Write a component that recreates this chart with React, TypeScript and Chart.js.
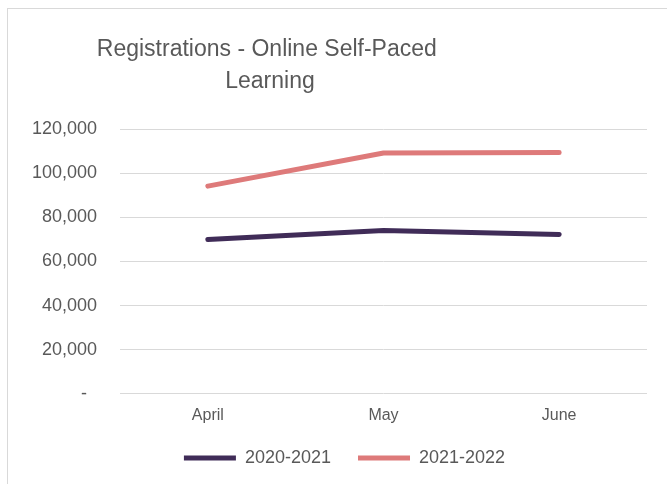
import React, { useEffect, useRef } from "react";
import { Chart, registerables } from "chart.js";

Chart.register(...registerables);

const months = ["April", "May", "June"];
const series2020 = [69900, 74000, 72200];
const series2021 = [94100, 109100, 109400];
const seriesNames = ["2020-2021", "2021-2022"];
const titleLines = ["Registrations - Online Self-Paced ", "Learning"];
const yTicks = [0, 20000, 40000, 60000, 80000, 100000, 120000];

const FONT = "Arial, 'Liberation Sans', sans-serif";
const TEXT = "#595959";
const GRID = "#d9d9d9";

const titlePlugin = {
  id: "customTitle",
  afterDraw(chart: any) {
    const ctx = chart.ctx;
    ctx.save();
    ctx.fillStyle = TEXT;
    ctx.font = `23px ${FONT}`;
    ctx.textAlign = "center";
    ctx.textBaseline = "alphabetic";
    const cx = 270;
    titleLines.forEach((line, i) => {
      ctx.fillText(line, cx, 56 + i * 32);
    });
    ctx.restore();
  },
};

export default function App() {
  const ref = useRef<HTMLCanvasElement>(null);

  useEffect(() => {
    if (!ref.current) return;
    const chart = new Chart(ref.current, {
      type: "line",
      data: {
        labels: months,
        datasets: [
          {
            label: seriesNames[0],
            data: series2020,
            borderColor: "#402c58",
            backgroundColor: "#402c58",
            borderWidth: 5,
            pointRadius: 0,
            borderCapStyle: "round",
            borderJoinStyle: "round",
            tension: 0,
          },
          {
            label: seriesNames[1],
            data: series2021,
            borderColor: "#de7a7a",
            backgroundColor: "#de7a7a",
            borderWidth: 5,
            pointRadius: 0,
            borderCapStyle: "round",
            borderJoinStyle: "round",
            tension: 0,
          },
        ],
      },
      options: {
        animation: false,
        responsive: false,
        maintainAspectRatio: false,
        layout: { padding: { top: 129, right: 0, bottom: 7, left: 22 } },
        plugins: {
          title: { display: false },
          tooltip: { enabled: false },
          legend: {
            position: "bottom",
            labels: {
              usePointStyle: true,
              pointStyle: "line",
              pointStyleWidth: 52,
              boxHeight: 5,
              color: TEXT,
              font: { family: FONT, size: 18 },
              padding: 12,
              generateLabels: (chart: any) => {
                const items = Chart.defaults.plugins.legend.labels.generateLabels(chart);
                return items.map((it: any, i: number) =>
                  i < items.length - 1 ? { ...it, text: it.text + "   " } : it
                );
              },
            },
          },
        },
        scales: {
          x: {
            offset: true,
            grid: { display: false, drawTicks: false },
            border: { display: false },
            ticks: {
              color: TEXT,
              font: { family: FONT, size: 16 },
              padding: 12,
            },
          },
          y: {
            min: 0,
            max: 120000,
            afterFit: (scale: any) => {
              scale.width = 98;
            },
            afterBuildTicks: (scale: any) => {
              scale.ticks = yTicks.map((v) => ({ value: v }));
            },
            grid: { color: GRID, lineWidth: 1, drawTicks: false },
            border: { display: false },
            ticks: {
              color: TEXT,
              font: { family: FONT, size: 18 },
              padding: 23,
              callback: (v: any) => (Number(v) === 0 ? "-  " : Number(v).toLocaleString("en-US")),
            },
          },
          yRight: {
            position: "right",
            display: true,
            min: 0,
            max: 120000,
            grid: { display: false, drawTicks: false },
            border: { display: false },
            ticks: { display: false },
            afterFit: (scale: any) => {
              scale.width = 20;
            },
          },
        },
      },
      plugins: [titlePlugin],
    });
    return () => chart.destroy();
  }, []);

  return (
    <div style={{ position: "absolute", left: 0, top: 0, width: 667, height: 484, background: "#fff", overflow: "hidden" }}>
      <div
        style={{
          position: "absolute",
          left: 7,
          top: 8,
          width: 720,
          height: 520,
          border: "1px solid #d9d9d9",
        }}
      />
      <canvas ref={ref} width={667} height={484} style={{ position: "absolute", left: 0, top: 0 }} />
    </div>
  );
}
